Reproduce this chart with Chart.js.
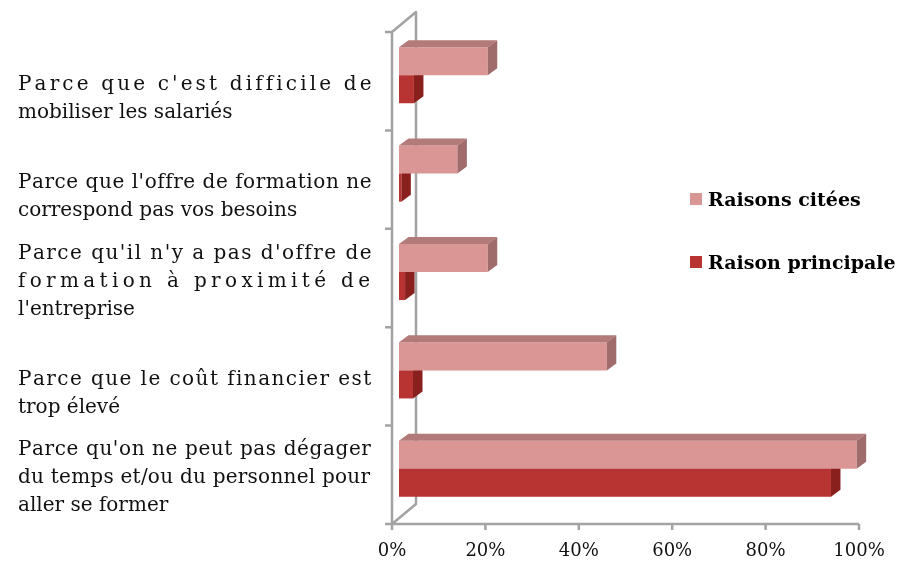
<!DOCTYPE html>
<html>
<head>
<meta charset="utf-8">
<script src="https://cdn.jsdelivr.net/npm/chart.js@4.4.0/dist/chart.umd.min.js"></script>
<style>
  body { margin: 0; background: #fff; }
  #wrap { position: relative; width: 905px; height: 562px; }
  .leg { position: absolute; left: 690px; font: bold 19px "DejaVu Serif"; color: #000; white-space: nowrap; line-height: 20px; }
  .leg i { display: inline-block; width: 12px; height: 12px; margin-right: 6px; vertical-align: 1px; }
</style>
</head>
<body>
<div id="wrap">
  <canvas id="chart" width="905" height="562"></canvas>
</div>
<script>
// categories, top to bottom, already wrapped the way the original shows them
const categories = [
  ["Parce que c'est difficile de", "mobiliser les salariés"],
  ["Parce que l'offre de formation ne", "correspond pas vos besoins"],
  ["Parce qu'il n'y a pas d'offre de", "formation à proximité de", "l'entreprise"],
  ["Parce que le coût financier est", "trop élevé"],
  ["Parce qu'on ne peut pas dégager", "du temps et/ou du personnel pour", "aller se former"]
];
const seriesNames = ['Raisons citées', 'Raison principale'];
const raisonsCitees = [19, 12.5, 19, 44.5, 98];
const raisonPrincipale = [3.2, 0.5, 1.3, 3, 92.5];
const xMax = 100;
const xStep = 20;

// colours: front / top / side faces
const pink = { front: '#DA9694', top: '#B27a79', side: '#A06C6B' };
const red = { front: '#B83432', top: '#962826', side: '#8A201E' };

// 3d geometry: bar plane sits (OX,-OY) behind the front axis, walls are DX,-DY deep
const OX = 7, OY = 6, DX = 24, DY = 20;
const BDX = 9.5, BDY = 7;
const LABEL_X = 18, LABEL_W = 352;

const frame = {
  id: 'frame',
  beforeDatasetsDraw(chart) {
    const { ctx, chartArea } = chart;
    const xs = chart.scales.x;
    const x0 = xs.getPixelForValue(0) - OX;
    const x1 = xs.getPixelForValue(xMax) - OX;
    const top = chartArea.top + OY, bot = chartArea.bottom + OY;
    ctx.save();
    ctx.strokeStyle = '#A3A3A3';
    ctx.lineWidth = 2.5;
    ctx.lineJoin = 'round';
    ctx.beginPath();
    // back wall + side edges
    ctx.moveTo(x0, top); ctx.lineTo(x0 + DX, top - DY); ctx.lineTo(x0 + DX, bot - DY); ctx.lineTo(x0, bot);
    // front axes
    ctx.moveTo(x0, top); ctx.lineTo(x0, bot); ctx.lineTo(x1, bot);
    // category ticks
    const band = (chartArea.bottom - chartArea.top) / categories.length;
    for (let i = 0; i <= categories.length; i++) {
      const y = top + i * band;
      ctx.moveTo(x0 - 7, y); ctx.lineTo(x0, y);
    }
    xs.ticks.forEach(t => {
      const x = xs.getPixelForValue(t.value) - OX;
      ctx.moveTo(x, bot); ctx.lineTo(x, bot + 6);
    });
    ctx.stroke();
    ctx.restore();
  },
  afterDatasetDraw(chart, args) {
    const ctx = chart.ctx;
    const ds = chart.data.datasets[args.index];
    ctx.save();
    args.meta.data.forEach(bar => {
      const { x, y, base, height } = bar.getProps(['x', 'y', 'base', 'height'], true);
      const t = y - height / 2, b = y + height / 2;
      ctx.fillStyle = ds.faces.top;
      ctx.beginPath();
      ctx.moveTo(base, t); ctx.lineTo(x, t); ctx.lineTo(x + BDX, t - BDY); ctx.lineTo(base + BDX, t - BDY);
      ctx.closePath(); ctx.fill();
      ctx.fillStyle = ds.faces.side;
      ctx.beginPath();
      ctx.moveTo(x, t); ctx.lineTo(x + BDX, t - BDY); ctx.lineTo(x + BDX, b - BDY); ctx.lineTo(x, b);
      ctx.closePath(); ctx.fill();
    });
    ctx.restore();
  },
  afterDraw(chart) {
    // justified category labels on the left
    const ctx = chart.ctx, ys = chart.scales.y;
    ctx.save();
    ctx.font = '20px "DejaVu Serif"';
    ctx.fillStyle = '#111';
    ctx.textBaseline = 'alphabetic';
    categories.forEach((lines, i) => {
      const cy = ys.getPixelForTick(i) + OY;
      lines.forEach((line, j) => {
        const yb = cy + 36.5 - (lines.length - 1 - j) * 28;
        const last = j === lines.length - 1;
        const sp = last ? 0 : (LABEL_W - ctx.measureText(line).width) / (line.length - 1);
        let x = LABEL_X;
        for (const ch of line) {
          ctx.fillText(ch, x, yb);
          x += ctx.measureText(ch).width + sp;
        }
      });
    });
    ctx.restore();
  }
};

new Chart(document.getElementById('chart'), {
  type: 'bar',
  data: {
    labels: categories,
    datasets: [
      { label: seriesNames[0], data: raisonsCitees, backgroundColor: pink.front, faces: pink },
      { label: seriesNames[1], data: raisonPrincipale, backgroundColor: red.front, faces: red }
    ]
  },
  options: {
    indexAxis: 'y',
    responsive: false,
    animation: false,
    devicePixelRatio: 1,
    categoryPercentage: 0.57,
    barPercentage: 1,
    layout: { padding: { left: 399, right: 39, top: 26, bottom: 0 } },
    plugins: { legend: { display: false }, tooltip: { enabled: false } },
    scales: {
      y: { display: false },
      x: {
        min: 0, max: xMax,
        grid: { display: false, drawTicks: false },
        border: { display: false },
        ticks: {
          stepSize: xStep,
          labelOffset: -OX,
          padding: 23,
          color: '#111',
          font: { family: 'DejaVu Serif', size: 18 },
          callback: v => v + '%'
        },
        afterFit(scale) {
          scale.height = 44;
          scale.paddingLeft = 0;
          scale.paddingRight = 0;
        }
      }
    }
  },
  plugins: [frame]
});

// legend
const wrap = document.getElementById('wrap');
[[seriesNames[0], pink.front, 189], [seriesNames[1], red.front, 252]].forEach(([name, col, top]) => {
  const d = document.createElement('div');
  d.className = 'leg';
  d.style.top = top + 'px';
  d.innerHTML = '<i style="background:' + col + '"></i>' + name;
  wrap.appendChild(d);
});
</script>
</body>
</html>
